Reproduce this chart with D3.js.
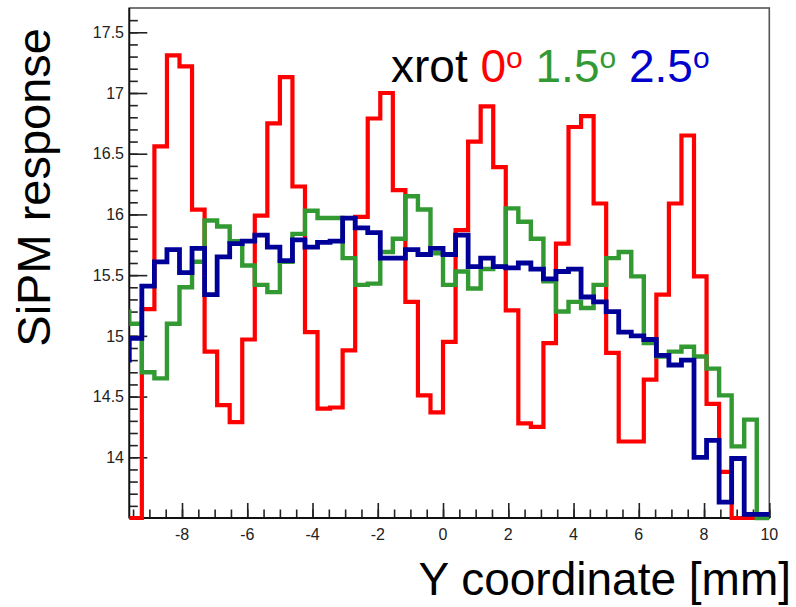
<!DOCTYPE html>
<html>
<head>
<meta charset="utf-8">
<script src="https://cdn.jsdelivr.net/npm/d3@7/dist/d3.min.js"></script>
<style>
  html, body { margin: 0; padding: 0; background: #fff; }
  svg { display: block; font-family: "Liberation Sans", Arial, Helvetica, sans-serif; }
</style>
</head>
<body>
<svg id="chart" width="796" height="607"></svg>
<script>
// ---- data (histogram: 52 bins from -10 to 10; first bin lies left of the visible axis range) ----
const histMin = -10;
const histMax = 10;
const redValues = [13.0,
  13.3, 15.22, 16.56, 17.31, 17.22, 16.04, 14.87, 14.43, 14.29, 14.97,
  15.99, 16.75, 17.13, 16.23, 15.03, 14.40, 14.41, 14.88, 15.98, 16.79,
  17.00, 16.20, 15.28, 14.51, 14.37, 14.95, 15.87, 16.60, 16.89, 16.39,
  15.21, 14.28, 14.25, 14.94, 15.76, 16.72, 16.81, 16.09, 14.86, 14.13,
  14.13, 14.64, 15.34, 16.09, 16.65, 15.49, 14.44, 13.88, 13.3, 13.3, 13.3];
const greenValues = [15.20,
  15.10, 14.70, 14.65, 15.10, 15.40, 15.61, 15.95, 15.90, 15.78, 15.58,
  15.42, 15.36, 15.61, 15.84, 16.03, 15.97, 15.97, 15.64, 15.42, 15.43,
  15.69, 15.80, 16.15, 16.04, 15.68, 15.42, 15.53, 15.39, 15.55, 15.57,
  16.05, 15.94, 15.80, 15.45, 15.20, 15.28, 15.23, 15.42, 15.64, 15.69,
  15.49, 14.94, 14.83, 14.87, 14.91, 14.83, 14.73, 14.51, 14.09, 14.31, 13.3];
const blueValues = [14.80,
  14.98, 15.41, 15.61, 15.71, 15.52, 15.72, 15.34, 15.65, 15.76, 15.78,
  15.83, 15.73, 15.62, 15.79, 15.73, 15.77, 15.78, 15.97, 15.89, 15.85,
  15.64, 15.64, 15.71, 15.67, 15.72, 15.67, 15.83, 15.57, 15.64, 15.57,
  15.56, 15.60, 15.55, 15.47, 15.53, 15.55, 15.32, 15.28, 15.20, 15.03,
  15.00, 14.97, 14.84, 14.76, 14.80, 14.00, 14.14, 13.63, 13.99, 13.53, 13.53];
const seriesNames = ["0", "1.5", "2.5"];
const xTickValues = [-8, -6, -4, -2, 0, 2, 4, 6, 8, 10];
const yTickValues = [14, 14.5, 15, 15.5, 16, 16.5, 17, 17.5];
const xAxisRange = [-10 + 20 / 52, 10];
const yAxisRange = [13.5, 17.7];

// ---- layout ----
const svg = d3.select("#chart");
const frame = { left: 129.3, right: 769.3, top: 8, bottom: 518 };

const x = d3.scaleLinear().domain(xAxisRange).range([frame.left, frame.right]);
const y = d3.scaleLinear().domain(yAxisRange).range([frame.bottom, frame.top]).clamp(true);

svg.append("defs").append("clipPath").attr("id", "clipx")
  .append("rect").attr("x", frame.left).attr("y", 0)
  .attr("width", frame.right - frame.left).attr("height", 607);

// frame
svg.append("rect")
  .attr("x", frame.left).attr("y", frame.top)
  .attr("width", frame.right - frame.left).attr("height", frame.bottom - frame.top)
  .attr("fill", "none").attr("stroke", "#555").attr("stroke-width", 1.6);

// ---- axes ----
const nBins = redValues.length;
const binW = (histMax - histMin) / nBins;

// x axis ticks (inside, pointing up)
const xMinor = d3.range(-9.5, 10.001, 0.5).filter(v => v > xAxisRange[0]);
const xAxisMinor = d3.axisTop(x).tickValues(xMinor).tickSize(8.5).tickFormat("");
svg.append("g").attr("transform", `translate(0,${frame.bottom})`).call(xAxisMinor)
  .call(g => g.select(".domain").remove())
  .call(g => g.selectAll("line").attr("stroke", "#222").attr("stroke-width", 1.6));
const xAxisMajor = d3.axisTop(x).tickValues(xTickValues).tickSize(15).tickFormat("");
svg.append("g").attr("transform", `translate(0,${frame.bottom})`).call(xAxisMajor)
  .call(g => g.select(".domain").remove())
  .call(g => g.selectAll("line").attr("stroke", "#222").attr("stroke-width", 1.6));
// x tick labels
svg.append("g").selectAll("text").data(xTickValues).join("text")
  .attr("x", d => x(d)).attr("y", 540)
  .attr("text-anchor", "middle")
  .attr("font-size", 16).attr("fill", "#222")
  .text(d => String(d));

// y axis ticks (inside, pointing right)
const yMinor = d3.range(136, 177, 1).map(v => v / 10);
const yAxisMinor = d3.axisRight(y).tickValues(yMinor).tickSize(8.5).tickFormat("");
svg.append("g").attr("transform", `translate(${frame.left},0)`).call(yAxisMinor)
  .call(g => g.select(".domain").remove())
  .call(g => g.selectAll("line").attr("stroke", "#222").attr("stroke-width", 1.6));
const yAxisMajor = d3.axisRight(y).tickValues(yTickValues).tickSize(18).tickFormat("");
svg.append("g").attr("transform", `translate(${frame.left},0)`).call(yAxisMajor)
  .call(g => g.select(".domain").remove())
  .call(g => g.selectAll("line").attr("stroke", "#222").attr("stroke-width", 1.6));
svg.append("line").attr("x1", frame.left).attr("x2", frame.left)
  .attr("y1", frame.top).attr("y2", frame.bottom).attr("stroke", "#111").attr("stroke-width", 1.8);
svg.append("line").attr("x1", frame.left).attr("x2", frame.right)
  .attr("y1", frame.bottom).attr("y2", frame.bottom).attr("stroke", "#111").attr("stroke-width", 1.8);
// y tick labels
svg.append("g").selectAll("text").data(yTickValues).join("text")
  .attr("x", 124).attr("y", d => y(d) + 5.7)
  .attr("text-anchor", "end")
  .attr("font-size", 16).attr("fill", "#222")
  .text(d => String(d));

// ---- histograms ----
function stepPoints(vals) {
  const pts = vals.map((v, i) => [histMin + i * binW, v]);
  pts.push([histMax, vals[vals.length - 1]]);
  return pts;
}
const stepLine = d3.line().x(d => x(d[0])).y(d => y(d[1])).curve(d3.curveStepAfter);

const series = [
  { vals: redValues, color: "#ff0000", w: 4.2 },
  { vals: greenValues, color: "#339933", w: 4.4 },
  { vals: blueValues, color: "#000099", w: 4.8 }
];
const gH = svg.append("g").attr("clip-path", "url(#clipx)");
gH.selectAll("path").data(series).join("path")
  .attr("d", d => stepLine(stepPoints(d.vals)))
  .attr("fill", "none")
  .attr("stroke", d => d.color)
  .attr("stroke-width", d => d.w)
  .attr("stroke-linejoin", "miter");

// ---- titles ----
svg.append("text")
  .attr("transform", "translate(50,28) rotate(-90)")
  .attr("text-anchor", "end")
  .attr("font-size", 47).attr("fill", "#000")
  .text("SiPM response");
svg.append("text")
  .attr("x", 791).attr("y", 595)
  .attr("text-anchor", "end")
  .attr("font-size", 46).attr("fill", "#000")
  .text("Y coordinate [mm]");

// legend-like header
const legendColors = ["#ff0000", "#339933", "#0000cc"];
const t = svg.append("text").attr("x", 391).attr("y", 82).attr("font-size", 46);
t.append("tspan").attr("fill", "#000").text("xrot ");
seriesNames.forEach((name, i) => {
  t.append("tspan").attr("fill", legendColors[i]).text(name);
  t.append("tspan").attr("fill", legendColors[i]).attr("font-size", 30).attr("dy", -14).text("o");
  t.append("tspan").attr("dy", 14).text(i < seriesNames.length - 1 ? "\u00a0" : "");
});
</script>
</body>
</html>
